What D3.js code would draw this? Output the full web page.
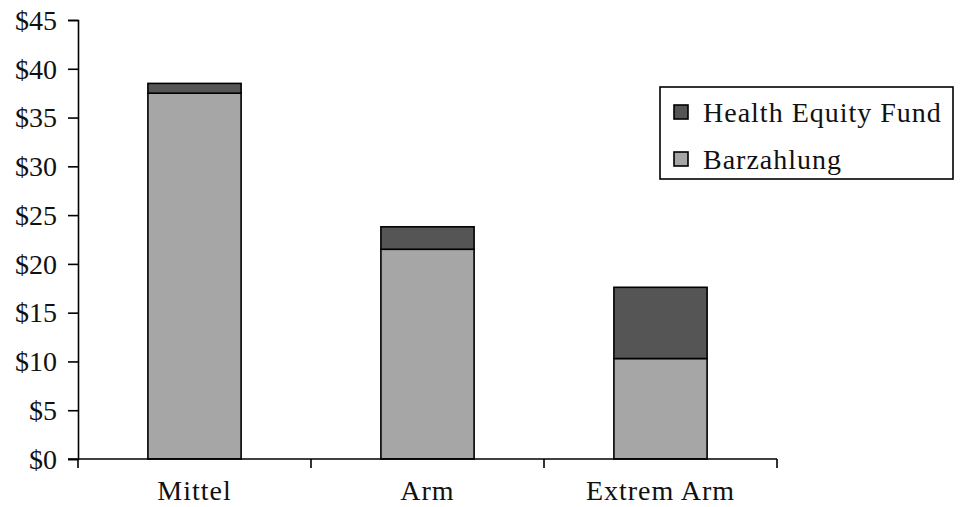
<!DOCTYPE html>
<html>
<head>
<meta charset="utf-8">
<script src="https://cdn.jsdelivr.net/npm/d3@7"></script>
<style>
  html, body { margin: 0; padding: 0; background: #fff; }
  svg { display: block; }
  text { font-family: "Liberation Serif", "DejaVu Serif", serif; fill: #111; }
</style>
</head>
<body>
<svg id="chart" width="961" height="507"></svg>
<script>
// Average payment per group, split by source (USD)
const categories = ["Mittel", "Arm", "Extrem Arm"];
const seriesNames = ["Barzahlung", "Health Equity Fund"];
const barzahlung = [37.5, 21.5, 10.3];
const healthEquityFund = [1.0, 2.3, 7.3];
const yTicks = [0, 5, 10, 15, 20, 25, 30, 35, 40, 45];

const colors = { "Barzahlung": "#a6a6a6", "Health Equity Fund": "#555555" };

const svg = d3.select("#chart");
const margin = { left: 78, right: 184, top: 20, bottom: 48 };
const width = 961, height = 507;

const x = d3.scaleBand()
  .domain(categories)
  .range([margin.left, width - margin.right])
  .paddingInner(0.6)
  .paddingOuter(0.3);

const y = d3.scaleLinear()
  .domain([0, 45])
  .range([height - margin.bottom, margin.top]);

const rows = categories.map((c, i) => ({
  category: c,
  "Barzahlung": barzahlung[i],
  "Health Equity Fund": healthEquityFund[i]
}));
const stacked = d3.stack().keys(seriesNames)(rows);

// Bars
svg.append("g")
  .selectAll("g")
  .data(stacked)
  .join("g")
    .attr("fill", d => colors[d.key])
  .selectAll("rect")
  .data(d => d)
  .join("rect")
    .attr("x", d => x(d.data.category))
    .attr("y", d => y(d[1]))
    .attr("width", x.bandwidth())
    .attr("height", d => y(d[0]) - y(d[1]))
    .attr("stroke", "#000")
    .attr("stroke-width", 1.6);

// Y axis
const yAxis = svg.append("g")
  .attr("transform", `translate(${margin.left},0)`)
  .call(d3.axisLeft(y).tickValues(yTicks).tickFormat(d => "$" + d).tickSize(10).tickPadding(11));
yAxis.select(".domain").attr("stroke", "#000").attr("stroke-width", 1.6);
yAxis.selectAll(".tick line").attr("stroke", "#000").attr("stroke-width", 1.6);
yAxis.selectAll(".tick text").style("font-size", "28px").attr("dy", "0.33em");

// X axis with ticks at category boundaries
const bandStep = (width - margin.right - margin.left) / categories.length;
const xAxis = svg.append("g")
  .attr("transform", `translate(0,${y(0)})`);
xAxis.append("line")
  .attr("x1", margin.left - 10).attr("x2", width - margin.right)
  .attr("stroke", "#000").attr("stroke-width", 1.6);
xAxis.selectAll("line.bound")
  .data(d3.range(categories.length + 1))
  .join("line")
    .attr("class", "bound")
    .attr("x1", i => margin.left + i * bandStep)
    .attr("x2", i => margin.left + i * bandStep)
    .attr("y1", 0).attr("y2", 9)
    .attr("stroke", "#000").attr("stroke-width", 1.6);
xAxis.selectAll("text")
  .data(categories)
  .join("text")
    .attr("x", d => x(d) + x.bandwidth() / 2)
    .attr("y", 41)
    .attr("text-anchor", "middle")
    .style("font-size", "28px")
    .style("letter-spacing", "1px")
    .text(d => d);

// Legend
const legend = svg.append("g").attr("transform", "translate(660,87)");
legend.append("rect")
  .attr("width", 293).attr("height", 92)
  .attr("fill", "#fff").attr("stroke", "#000").attr("stroke-width", 1.6);
const legendItems = ["Health Equity Fund", "Barzahlung"];
const li = legend.selectAll("g.item")
  .data(legendItems)
  .join("g")
    .attr("class", "item")
    .attr("transform", (d, i) => `translate(0,${25 + i * 47})`);
li.append("rect")
  .attr("x", 14).attr("y", -7)
  .attr("width", 14).attr("height", 14)
  .attr("fill", d => colors[d])
  .attr("stroke", "#000").attr("stroke-width", 1.6);
li.append("text")
  .attr("x", 43).attr("y", 0)
  .attr("dy", "0.35em")
  .style("font-size", "28px")
  .style("letter-spacing", "1px")
  .text(d => d);
</script>
</body>
</html>
